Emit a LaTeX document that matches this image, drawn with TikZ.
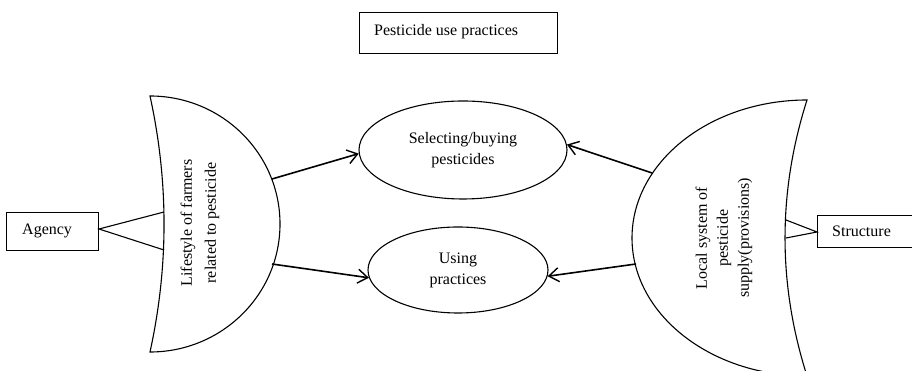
\documentclass[tikz,border=0pt]{standalone}
\usepackage{fontspec}
\setmainfont{Liberation Serif}
\usetikzlibrary{arrows.meta,shapes.geometric}
\begin{document}
\begin{tikzpicture}[x=1pt,y=1pt,
  txt/.style={font=\fontsize{16}{21}\selectfont},
  boxline/.style={draw=black,line width=0.9pt},
  shapeline/.style={draw=black,line width=1.1pt},
  oval/.style={ellipse,draw=black,line width=1.1pt,inner sep=0pt,align=center,font=\fontsize{16}{21}\selectfont},
  arr/.style={line width=1.6pt,-{Straight Barb[length=10pt,width=14pt,line width=1.4pt]}},
  link/.style={line width=1.1pt}]
\useasboundingbox (0,0) rectangle (912,371);
\clip (0,0) rectangle (912,371);
\fill[white] (0,0) rectangle (912,371);

% top box
\draw[boxline] (359,318) rectangle (557,359);
\node[txt,anchor=west,inner sep=0pt] (top) at (374,339) {Pesticide use practices};

% ellipses
\node[oval,minimum width=208pt,minimum height=98pt] (e1) at (463,221) {Selecting/buying\\pesticides};
\node[oval,minimum width=180pt,minimum height=86pt] (e2) at (458,101) {Using\\practices};

% left crescent
\draw[shapeline] (150,275) arc[start angle=90,end angle=-90,x radius=130pt,y radius=128pt]
  .. controls (168.7,104.3) and (168.7,189.7) .. (150,275) -- cycle;
\node[txt,rotate=90,align=center,font=\fontsize{16}{24}\selectfont] (lt) at (200,148) {Lifestyle of farmers\\related to pesticide};

% right crescent
\draw[shapeline] (807,271) arc[start angle=90,end angle=270,x radius=175pt,y radius=138pt]
  .. controls (777.7,87) and (777.7,179) .. (807,271) -- cycle;
\node[txt,rotate=90,align=center] (rt) at (724,133) {Local system of\\pesticide\\supply(provisions)};

% Agency
\draw[boxline] (6,121) rectangle (98,159);
\node[txt,anchor=west,inner sep=0pt] (ag) at (22,140) {Agency};
\coordinate (agj) at (99,142);
\coordinate (agu) at (164,159);
\coordinate (agd) at (164,121);
\draw[link] (agu) -- (agj) -- (agd);

% Structure
\draw[boxline] (817,124) rectangle (930,156);
\node[txt,anchor=west,inner sep=0pt] (st) at (832,140) {Structure};
\coordinate (stj) at (817,139);
\coordinate (stu) at (786,151);
\coordinate (std) at (786,133);
\draw[link] (stu) -- (stj) -- (std);

% arrows
\coordinate (a1) at (272,192);
\coordinate (a2) at (272,107);
\coordinate (b1) at (652,198);
\coordinate (b2) at (636,107);
\draw[arr] (a1) -- (e1.182);
\draw[arr] (a2) -- (e2.185);
\draw[arr] (b1) -- (e1.3);
\draw[arr] (b2) -- (e2.-4);
\end{tikzpicture}
\end{document}
